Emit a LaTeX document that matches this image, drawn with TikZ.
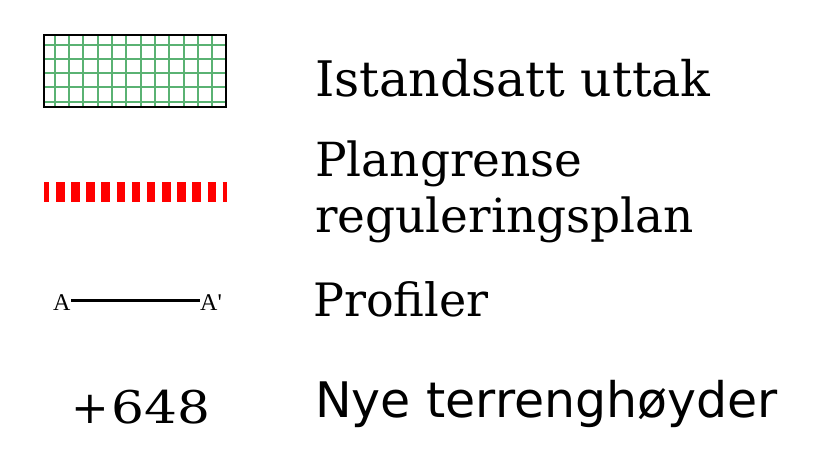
\documentclass[tikz,border=0pt]{standalone}
\usepackage{fontspec}
\setmainfont{DejaVu Serif}
\newfontfamily\labelsans{DejaVu Sans}
\newfontfamily\labeltimes{Liberation Serif}
\usepackage{xcolor}
\usepackage{graphicx}
\usetikzlibrary{positioning}
\definecolor{gridgreen}{RGB}{90,178,115}
\definecolor{planred}{RGB}{255,0,0}

\tikzset{
  legendtext/.style={anchor=base west, inner sep=0pt, font=\fontsize{47}{56.3}\selectfont},
  profiletext/.style={anchor=base west, inner sep=0.5pt, font=\labeltimes\fontsize{24}{28}\selectfont}
}

\begin{document}
\begin{tikzpicture}[x=1pt, y=-1pt]
        \useasboundingbox (0,0) rectangle (828,450);

        % Istandsatt uttak: green grid
        \foreach \i in {0,...,11}
            \draw[gridgreen, line width=2] (54.5+14.35*\i,35) -- (54.5+14.35*\i,107);
        \foreach \j in {0,...,4}
            \draw[gridgreen, line width=2] (44,44.5+14.3*\j) -- (226,44.5+14.3*\j);
        \draw[line width=2] (44,35) rectangle (226,107);
        \node[legendtext, font=\fontsize{49}{58}\selectfont] (uttak) at (315,96.7) {Istandsatt uttak};

        % Plangrense: red dashes
        \draw[planred, line width=20, dash pattern=on 8.5 off 6.65, dash phase=3.15]
            (44,192) -- (227,192);
        \node[legendtext, align=left] (plangrense) at (315,232.5) {Plangrense\\reguleringsplan};

        % Profiler
        \node[profiletext] (a) at (52.3,310) {A};
        \node[profiletext] (a') at (199.5,310) {A'};
        \draw[line width=2.2] ([yshift=1.5]a.east) -- ([yshift=1.5]a'.west);
        \node[legendtext, font=\fontsize{46}{55}\selectfont] (profiler) at (313,316.7) {Profiler};

        % Nye terrenghoyder
        \node[legendtext, font=\fontsize{45}{54}\selectfont] (hoyde) at (71,423.3)
            {+\kern3pt\scalebox{1.15}[1]{648}};
        \node[legendtext, font=\labelsans\fontsize{49}{58}\selectfont] (terreng) at (315,417.7) {Nye terrenghøyder};
    \end{tikzpicture}
\end{document}
